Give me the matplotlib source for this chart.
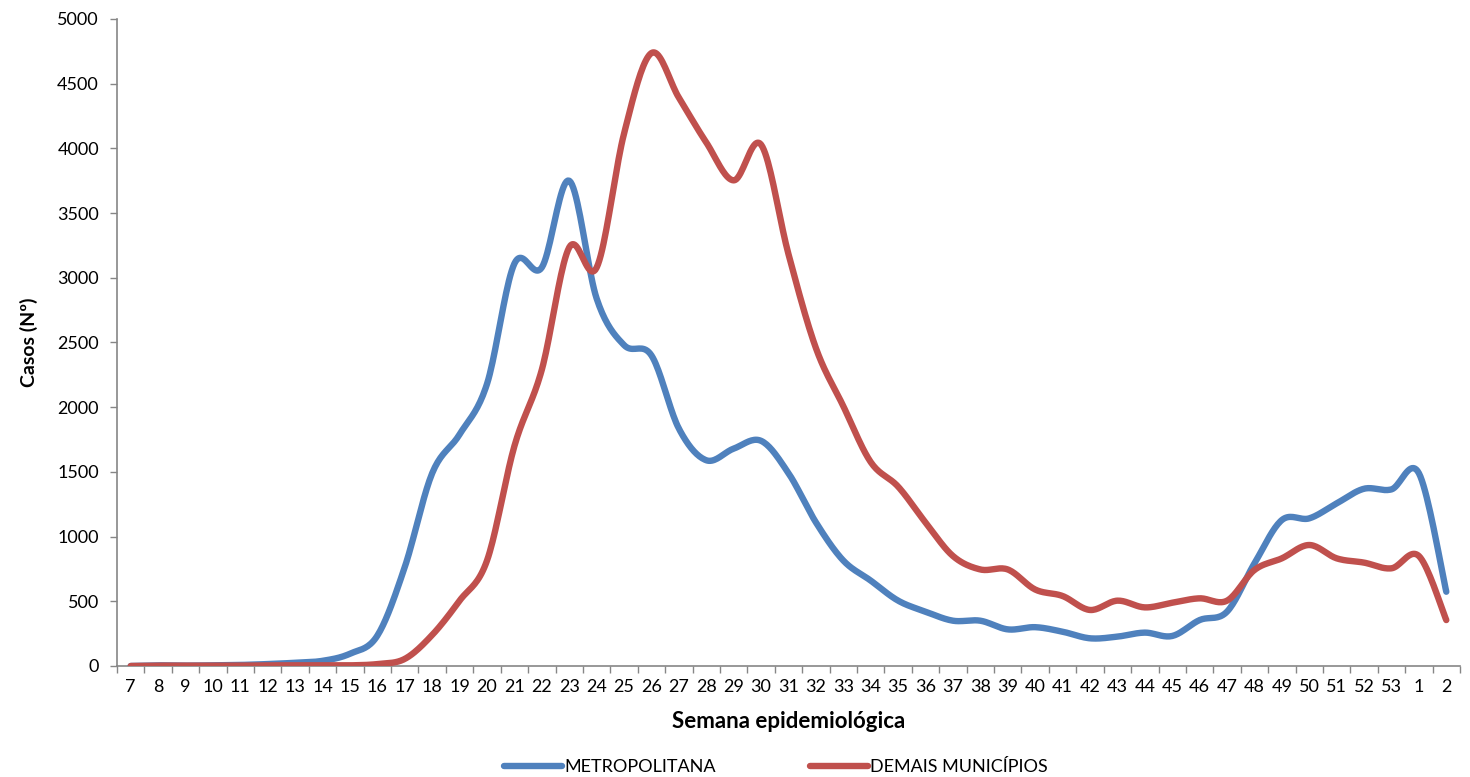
import numpy as np
import matplotlib
matplotlib.use("Agg")
import matplotlib.pyplot as plt
from matplotlib.lines import Line2D

plt.rcParams['font.family'] = ['Lato', 'DejaVu Sans']

weeks = [str(w) for w in range(7, 54)] + ["1", "2"]
metropolitana = [0, 5, 3, 5, 8, 15, 25, 40, 95, 235, 765, 1490, 1790, 2180, 3110, 3080,
                 3750, 2840, 2480, 2400, 1835, 1590, 1680, 1740, 1490, 1110, 815, 660,
                 505, 420, 350, 350, 283, 300, 265, 214, 227, 258, 232, 355, 420, 793,
                 1128, 1141, 1257, 1370, 1365, 1490, 574]
demais = [0, 3, 2, 3, 3, 5, 5, 5, 5, 15, 55, 240, 505, 815, 1700, 2290,
          3235, 3079, 4115, 4737, 4392, 4046, 3753, 4029, 3182, 2457, 2008, 1576,
          1386, 1109, 850, 746, 746, 591, 541, 433, 505, 453, 489, 523, 505, 742,
          832, 935, 832, 799, 755, 850, 355]

BLUE = "#4F81BD"
RED = "#C0504D"
GRAY = "#868686"


def smooth(y, n=20):
    """Excel-style smoothed line (Catmull-Rom / Bezier through data points)."""
    y = np.asarray(y, float)
    x = np.arange(len(y), dtype=float)
    xs, ys = [], []
    for i in range(len(y) - 1):
        p0 = np.array([x[max(i - 1, 0)], y[max(i - 1, 0)]])
        p1 = np.array([x[i], y[i]])
        p2 = np.array([x[i + 1], y[i + 1]])
        p3 = np.array([x[min(i + 2, len(y) - 1)], y[min(i + 2, len(y) - 1)]])
        c1 = p1 + (p2 - p0) / 6.0
        c2 = p2 - (p3 - p1) / 6.0
        t = np.linspace(0, 1, n, endpoint=(i == len(y) - 2))[:, None]
        pts = ((1 - t) ** 3) * p1 + 3 * ((1 - t) ** 2) * t * c1 + 3 * (1 - t) * t ** 2 * c2 + t ** 3 * p2
        xs.append(pts[:, 0]); ys.append(pts[:, 1])
    return np.concatenate(xs), np.concatenate(ys)


fig = plt.figure(figsize=(14.7, 7.77), dpi=100)
ax = fig.add_axes([117 / 1470, 1 - 666 / 777, (1460 - 117) / 1470, (666 - 19) / 777])

for vals, col in [(metropolitana, BLUE), (demais, RED)]:
    sx, sy = smooth(vals)
    ax.plot(sx, sy, color=col, lw=4.6, solid_capstyle='round', solid_joinstyle='round', zorder=3)

n = len(weeks)
ax.set_xlim(-0.5, n - 0.5)
ax.set_ylim(0, 5000)
ax.set_yticks(np.arange(0, 5001, 500))
ax.set_xticks(np.arange(n))
ax.set_xticklabels(weeks)
ax.set_xticks(np.arange(n + 1) - 0.5, minor=True)
ax.tick_params(axis='x', which='major', length=0, pad=9, labelsize=13, colors='black')
ax.tick_params(axis='x', which='minor', length=5, width=1, color=GRAY, direction='out')
ax.tick_params(axis='y', length=5, width=1, color=GRAY, labelsize=13, pad=8)

for s in ['top', 'right']:
    ax.spines[s].set_visible(False)
for s in ['left', 'bottom']:
    ax.spines[s].set_color(GRAY)
    ax.spines[s].set_linewidth(1.2)

ax.set_xlabel("Semana epidemiológica", fontsize=16, fontweight='bold', labelpad=12)
ax.set_ylabel("Casos (Nº)", fontsize=14, fontweight='bold', labelpad=14)

handles = [Line2D([0], [0], color=BLUE, lw=4.6, solid_capstyle='round'),
           Line2D([0], [0], color=RED, lw=4.6, solid_capstyle='round')]
fig.legend(handles, ["METROPOLITANA", "DEMAIS MUNICÍPIOS"], loc='center',
           bbox_to_anchor=(776 / 1470, 1 - 767 / 777), ncol=2, frameon=False,
           fontsize=13, handlelength=3.2, handletextpad=0.15, columnspacing=5.2)

fig.savefig("out.png", dpi=100)
